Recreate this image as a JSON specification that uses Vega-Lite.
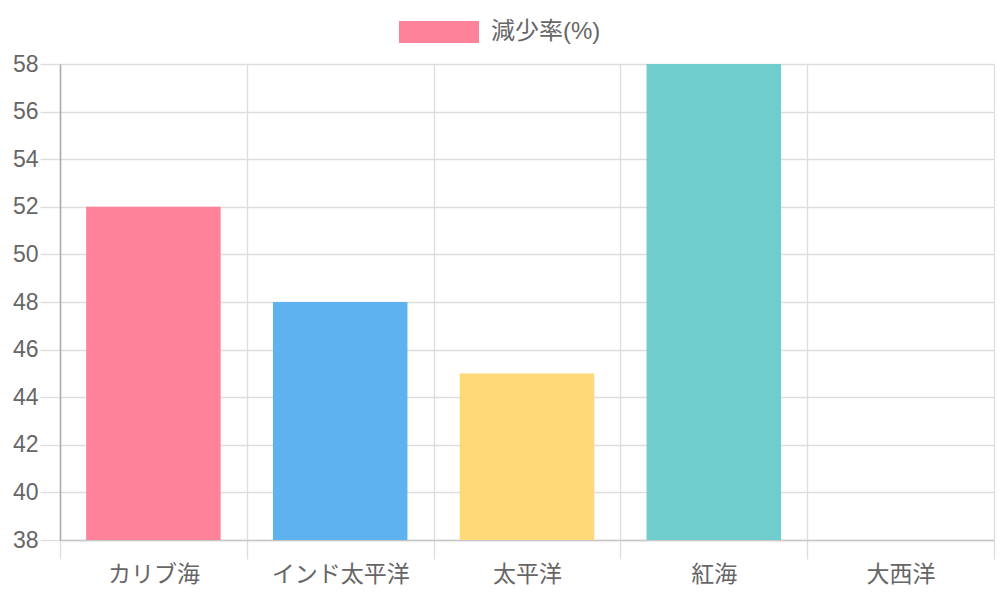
{
  "$schema": "https://vega.github.io/schema/vega-lite/v6.json",
  "width": 934,
  "height": 476,
  "autosize": {"type": "none"},
  "padding": {"left": 60, "top": 64, "right": 6, "bottom": 60},
  "background": "white",
  "config": {
    "view": {"stroke": null},
    "font": "Liberation Sans, Noto Sans CJK JP",
    "axis": {
      "labelFont": "Liberation Sans, Noto Sans CJK JP",
      "labelFontSize": 23,
      "labelColor": "#666666",
      "gridColor": "#dddddd",
      "gridWidth": 1.3,
      "tickColor": "#dddddd",
      "tickWidth": 1.3,
      "title": null
    },
    "legend": {
      "labelFont": "Liberation Sans, Noto Sans CJK JP"
    }
  },
  "data": {
    "values": [
      {"ocean": "カリブ海", "rate": 52},
      {"ocean": "インド太平洋", "rate": 48},
      {"ocean": "太平洋", "rate": 45},
      {"ocean": "紅海", "rate": 58},
      {"ocean": "大西洋", "rate": 38}
    ]
  },
  "layer": [
    {
      "mark": {"type": "bar", "width": {"band": 0.72}, "clip": true},
      "encoding": {
        "x": {
          "field": "ocean",
          "type": "nominal",
          "sort": null,
          "scale": {"paddingInner": 0, "paddingOuter": 0},
          "axis": {
            "title": null,
            "labelAngle": 0,
            "tickBand": "extent",
            "grid": true,
            "tickSize": 19,
            "labelPadding": 4,
            "domainColor": "#c8c8c8",
            "domainWidth": 1.5
          }
        },
        "y": {
          "field": "rate",
          "type": "quantitative",
          "scale": {"domain": [38, 58], "nice": false, "zero": false},
          "axis": {
            "title": null,
            "values": [38, 40, 42, 44, 46, 48, 50, 52, 54, 56, 58],
            "tickSize": 20,
            "labelPadding": 2,
            "domainColor": "#aaaaaa",
            "domainWidth": 1.5
          }
        },
        "fill": {
          "field": "ocean",
          "type": "nominal",
          "sort": null,
          "scale": {
            "domain": ["カリブ海", "インド太平洋", "太平洋", "紅海", "大西洋"],
            "range": ["#ff829b", "#5eb2ef", "#ffd878", "#6fcdcd", "#ad85ff"]
          },
          "legend": null
        }
      }
    },
    {
      "mark": {"type": "square", "opacity": 0},
      "encoding": {
        "color": {
          "datum": "減少率(%)",
          "type": "nominal",
          "scale": {"range": ["#ff829b"]},
          "legend": {
            "title": null,
            "orient": "none",
            "legendX": 339,
            "legendY": -72,
            "symbolType": "M-1,-0.275H1V0.275H-1Z",
            "symbolSize": 6400,
            "symbolOpacity": 1,
            "symbolStrokeWidth": 0,
            "labelFontSize": 24,
            "labelColor": "#666666",
            "labelOffset": 12,
            "padding": 0
          }
        }
      }
    }
  ],
  "resolve": {"scale": {"color": "independent"}}
}
